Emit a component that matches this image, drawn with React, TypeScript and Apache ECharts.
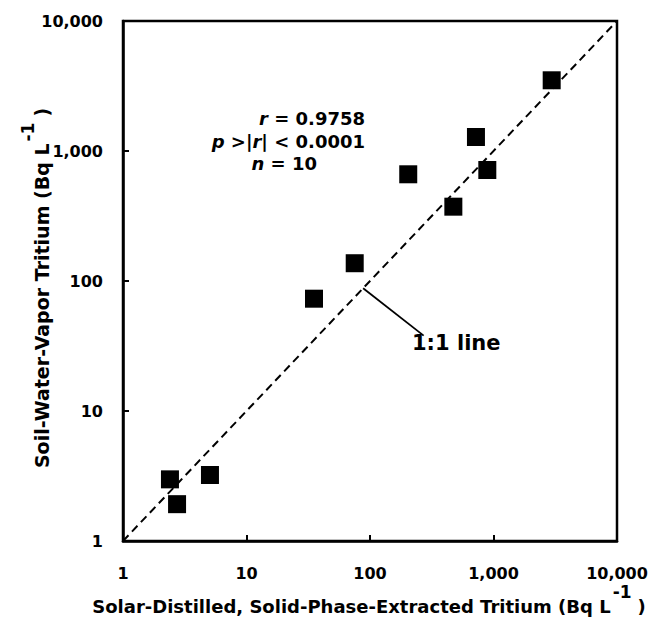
import React, { useEffect, useRef } from "react";
import * as echarts from "echarts";

const solarDistilled = [2.4, 2.74, 5.06, 35.2, 75.2, 204, 473, 721, 891, 2959];
const soilVapor = [2.98, 1.92, 3.22, 73.1, 137, 662, 373, 1282, 714, 3499];
const oneToOne = [[1, 1], [10000, 10000]];
const leader = [[88, 88], [272, 38]];

const FONT = "DejaVu Sans, Liberation Sans, Arial, sans-serif";

export default function App() {
  const ref = useRef<HTMLDivElement>(null);
  useEffect(() => {
    const chart = echarts.init(ref.current!, null, { renderer: "svg" });
    const fmt = (v: number) => Number(v).toLocaleString("en-US");
    const axisCommon = {
      type: "log" as const,
      logBase: 10,
      min: 1,
      max: 10000,
      axisLine: { show: true, lineStyle: { color: "#000", width: 2.5 } },
      axisTick: { show: true, inside: true, length: 6, lineStyle: { color: "#000", width: 2 } },
      splitLine: { show: false },
      axisLabel: {
        formatter: fmt,
        color: "#000",
        fontFamily: FONT,
        fontWeight: "bold" as const,
        fontSize: 16,
      },
    };
    const italic = { fontStyle: "italic", fontWeight: "bold", fontSize: 18, fontFamily: FONT };
    chart.setOption({
      animation: false,
      backgroundColor: "#fff",
      grid: {
        left: 123,
        top: 21,
        width: 494,
        height: 520,
        show: true,
        borderColor: "#000",
        borderWidth: 2.5,
        backgroundColor: "transparent",
      },
      xAxis: { ...axisCommon, axisLabel: { ...axisCommon.axisLabel, margin: 24 } },
      yAxis: { ...axisCommon, axisLabel: { ...axisCommon.axisLabel, margin: 20 } },
      series: [
        {
          type: "line",
          data: oneToOne,
          symbol: "none",
          lineStyle: { color: "#000", width: 2, type: [8, 5] },
          z: 1,
        },
        {
          type: "line",
          data: leader,
          symbol: "none",
          lineStyle: { color: "#000", width: 1.8 },
          z: 1,
        },
        {
          type: "scatter",
          data: solarDistilled.map((x, i) => [x, soilVapor[i]]),
          symbol: "rect",
          symbolSize: 18,
          itemStyle: { color: "#000", opacity: 1 },
          z: 3,
        },
      ],
      graphic: [
        {
          type: "text",
          x: 365,
          y: 118,
          style: {
            text: "{i|r} = 0.9758",
            align: "right",
            verticalAlign: "middle",
            font: `bold 18px ${FONT}`,
            fill: "#000",
            rich: { i: italic },
          },
        },
        {
          type: "text",
          x: 365,
          y: 141,
          style: {
            text: "{i|p} >|{i|r}| < 0.0001",
            align: "right",
            verticalAlign: "middle",
            font: `bold 18px ${FONT}`,
            fill: "#000",
            rich: { i: italic },
          },
        },
        {
          type: "text",
          x: 317,
          y: 163,
          style: {
            text: "{i|n} = 10",
            align: "right",
            verticalAlign: "middle",
            font: `bold 18px ${FONT}`,
            fill: "#000",
            rich: { i: italic },
          },
        },
        {
          type: "text",
          x: 412,
          y: 343,
          style: {
            text: "1:1 line",
            align: "left",
            verticalAlign: "middle",
            font: `bold 21px ${FONT}`,
            fill: "#000",
          },
        },
        {
          type: "text",
          x: 369,
          y: 599,
          style: {
            text: "{a|Solar-Distilled, Solid-Phase-Extracted Tritium (Bq L}{s|-1}{a|)}",
            align: "center",
            verticalAlign: "middle",
            fill: "#000",
            rich: {
              a: { fontSize: 18, fontWeight: "bold", fontFamily: FONT, verticalAlign: "bottom", lineHeight: 32 },
              s: { fontSize: 17, fontWeight: "bold", fontFamily: FONT, verticalAlign: "top", lineHeight: 32, padding: [0, 6, 0, 2] },
            },
          },
        },
        {
          type: "text",
          x: 35,
          y: 288,
          rotation: Math.PI / 2,
          style: {
            text: "{a|Soil-Water-Vapor Tritium (Bq L}{s|-1}{a|)}",
            align: "center",
            verticalAlign: "middle",
            fill: "#000",
            rich: {
              a: { fontSize: 19, fontWeight: "bold", fontFamily: FONT, verticalAlign: "bottom", lineHeight: 32 },
              s: { fontSize: 17, fontWeight: "bold", fontFamily: FONT, verticalAlign: "top", lineHeight: 32, padding: [0, 6, 0, 2] },
            },
          },
        },
      ],
    });
    return () => chart.dispose();
  }, []);
  return (
    <div
      ref={ref}
      style={{ position: "absolute", left: 0, top: 0, width: 651, height: 624 }}
    />
  );
}
